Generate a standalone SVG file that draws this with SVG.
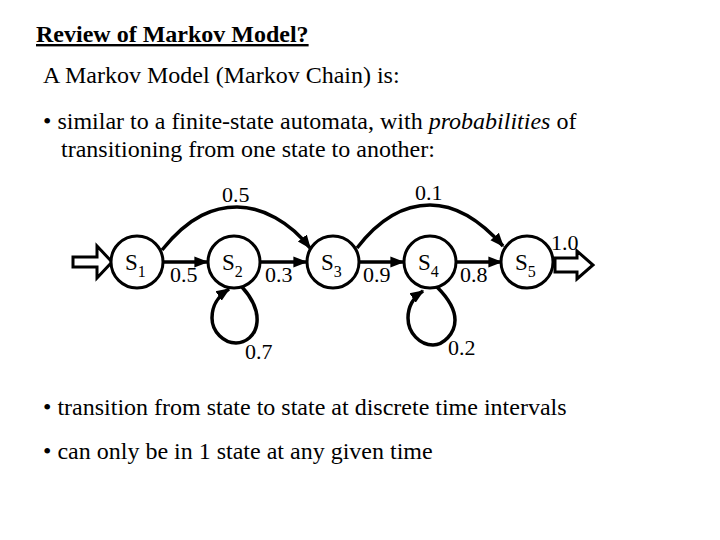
<svg xmlns="http://www.w3.org/2000/svg" width="720" height="540" viewBox="0 0 720 540">
<style>
text{font-family:"Liberation Serif","Times New Roman",serif;fill:#000}
.body{font-size:24px}
.lbl{font-size:22px}
.st{font-size:23px}
.sub{font-size:16px}
.node circle{fill:#fff;stroke:#000;stroke-width:3}
.edge{fill:none;stroke:#000;stroke-width:3.5}
.blk{fill:#fff;stroke:#000;stroke-width:3;stroke-linejoin:miter}
</style>
<defs>
<marker id="ah" viewBox="0 0 10 10" refX="9" refY="5" markerWidth="4" markerHeight="4" orient="auto" markerUnits="strokeWidth">
<path d="M0,1 L10,5 L0,9 z" fill="#000"/>
</marker>
</defs>
<rect width="720" height="540" fill="#fff"/>
<text x="36" y="42" style="font-size:24px;font-weight:bold;text-decoration:underline">Review of Markov Model?</text>
<text class="body" x="43" y="83">A Markov Model (Markov Chain) is:</text>
<text class="body" x="43" y="129">• similar to a finite-state automata, with <tspan font-style="italic">probabilities</tspan> of</text>
<text class="body" x="61" y="157">transitioning from one state to another:</text>
<text class="body" x="43" y="415">• transition from state to state at discrete time intervals</text>
<text class="body" x="43" y="459">• can only be in 1 state at any given time</text>

<g id="connectors">
<path class="blk" d="M73,257 L97,257 L97,246 L112,262 L97,278 L97,267 L73,267 Z"/>
<path class="blk" d="M555,258 L577,258 L577,251 L593,265 L577,279 L577,272 L555,272 Z"/>
<path class="edge" marker-end="url(#ah)" d="M163,262 L207,262"/>
<path class="edge" marker-end="url(#ah)" d="M261,262 L306,262"/>
<path class="edge" marker-end="url(#ah)" d="M360,262 L403,262"/>
<path class="edge" marker-end="url(#ah)" d="M457,262 L501,262"/>
<path class="edge" marker-end="url(#ah)" d="M162,250 C190,215 215,207 237,207 C262,207 290,222 310,248"/>
<path class="edge" marker-end="url(#ah)" d="M357,248 C380,218 405,205 430,205 C455,205 480,220 503,246"/>
<path class="edge" marker-end="url(#ah)" d="M242,287 C252,298 258,310 257,322 C256,336 245,343 236,343 C224,343 212,332 212,318 C212,303 220,295 229,289"/>
<path class="edge" marker-end="url(#ah)" d="M437,287 C447,297 455,308 455,320 C455,334 443,345 433,345 C420,345 408,333 408,318 C408,305 414,297 423,291"/>
<text class="lbl" x="222" y="202">0.5</text>
<text class="lbl" x="415" y="200">0.1</text>
<text class="lbl" x="170" y="282">0.5</text>
<text class="lbl" x="265" y="282">0.3</text>
<text class="lbl" x="363" y="282">0.9</text>
<text class="lbl" x="460" y="282">0.8</text>
<text class="lbl" x="245" y="359">0.7</text>
<text class="lbl" x="448" y="355">0.2</text>
<text class="lbl" x="551" y="250">1.0</text>
</g>

<g id="s1" class="node"><circle cx="137" cy="262" r="26"/><text class="st" x="125" y="270">S<tspan class="sub" dy="7">1</tspan></text></g>
<g id="s2" class="node"><circle cx="234" cy="262" r="26"/><text class="st" x="222" y="270">S<tspan class="sub" dy="7">2</tspan></text></g>
<g id="s3" class="node"><circle cx="333" cy="262" r="26"/><text class="st" x="321" y="270">S<tspan class="sub" dy="7">3</tspan></text></g>
<g id="s4" class="node"><circle cx="430" cy="262" r="26"/><text class="st" x="418" y="270">S<tspan class="sub" dy="7">4</tspan></text></g>
<g id="s5" class="node"><circle cx="527" cy="262" r="26"/><text class="st" x="515" y="270">S<tspan class="sub" dy="7">5</tspan></text></g>
</svg>
